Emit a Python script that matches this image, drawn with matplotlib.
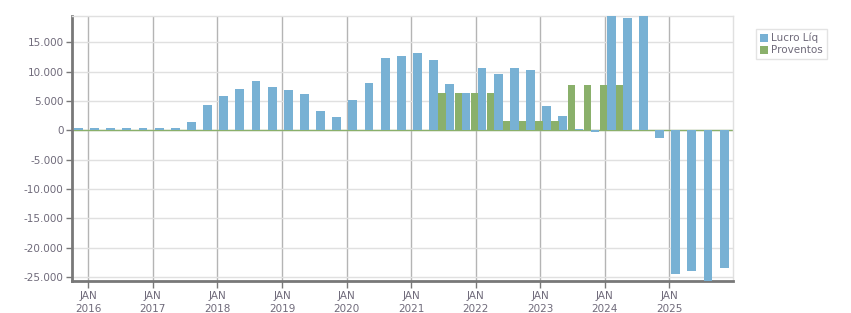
import numpy as np
from matplotlib import pyplot as plt

# trimestres (4T15 .. 4T25)
trimestres = ["4T15",
              "1T16", "2T16", "3T16", "4T16", "1T17", "2T17", "3T17", "4T17",
              "1T18", "2T18", "3T18", "4T18", "1T19", "2T19", "3T19", "4T19",
              "1T20", "2T20", "3T20", "4T20", "1T21", "2T21", "3T21", "4T21",
              "1T22", "2T22", "3T22", "4T22", "1T23", "2T23", "3T23", "4T23",
              "1T24", "2T24", "3T24", "4T24", "1T25", "2T25", "3T25", "4T25"]

lucro = [330, 330, 330, 330, 330, 330, 330, 1420, 4320, 5850, 7050, 8400,
         7390, 6880, 6190, 3300, 2270, 5170, 8070, 12330, 12670, 13180, 11990,
         7900, 6360, 10600, 9600, 10600, 10280, 4150, 2440, 200, -350, 19400,
         19100, 19400, -1250, -24500, -23900, -25600, -23400]

proventos = [0]*22 + [6360]*4 + [1590]*4 + [7730]*4 + [0]*7

anos = ["2016", "2017", "2018", "2019", "2020", "2021", "2022", "2023", "2024", "2025"]

azul = '#78b1d4'
verde = '#8ab06b'
texto = '#6f6a7a'

x = np.arange(len(trimestres))

fig = plt.figure(figsize=(8.51, 3.13), dpi=100)
ax = fig.add_axes([72/851, 1-281/313, (733-72)/851, (281-16)/313])

ax.axhline(0, color=verde, linewidth=1.0, zorder=1)
ax.bar(x - 0.25, lucro, width=0.55, color=azul, zorder=3, label='Lucro Líq')
ax.bar(x + 0.275, proventos, width=0.45, color=verde, zorder=3, label='Proventos')

ax.set_xlim(-0.65, 40.3)
ax.set_ylim(-25650, 19450)

# ticks
yt = np.arange(-25000, 15001, 5000)
ax.set_yticks(yt)
ax.set_yticklabels(['{:,}'.format(v).replace(',', '.') for v in yt])
xt = [4*k + 0.36 for k in range(len(anos))]
ax.set_xticks(xt)
ax.set_xticklabels(['JAN\n' + a for a in anos])

ax.grid(axis='y', color='#e0e0e0', linewidth=1, zorder=0)
ax.grid(axis='x', color='#b4b4b4', linewidth=1, zorder=0)
ax.set_axisbelow(True)

for s in ['top', 'right']:
    ax.spines[s].set_color('#e0e0e0')
    ax.spines[s].set_linewidth(1)
for s in ['left', 'bottom']:
    ax.spines[s].set_color('#787878')
    ax.spines[s].set_linewidth(2)

ax.tick_params(axis='y', colors='#787878', labelcolor=texto, labelsize=7.5,
               length=4, width=1, pad=2)
ax.tick_params(axis='x', colors='#787878', labelcolor=texto, labelsize=7.5,
               length=5, width=1, pad=2)
for lbl in ax.get_xticklabels():
    lbl.set_linespacing(1.35)

leg = fig.legend(loc='upper left', bbox_to_anchor=(756/851, 1-29/313),
                 fontsize=7.5, frameon=True, fancybox=False, borderpad=0.35,
                 handlelength=0.8, handleheight=0.8, handletextpad=0.3,
                 labelspacing=0.2, borderaxespad=0)
leg.get_frame().set_edgecolor('#dddddd')
leg.get_frame().set_linewidth(1)
for t in leg.get_texts():
    t.set_color(texto)

plt.savefig('out.png', dpi=100)
